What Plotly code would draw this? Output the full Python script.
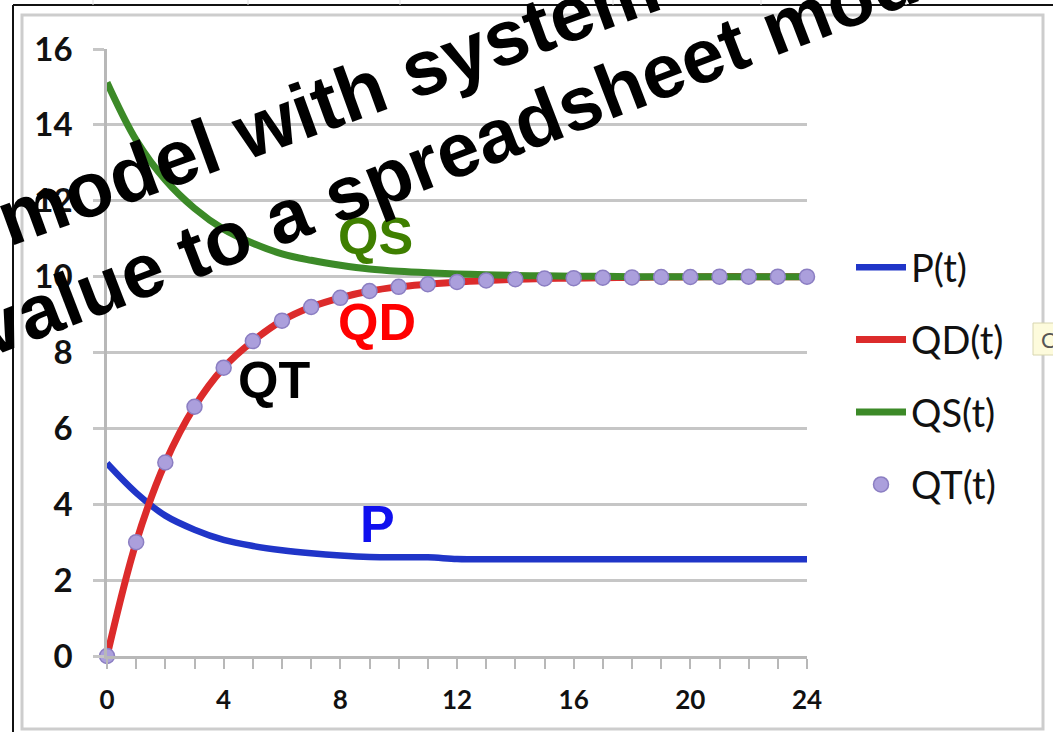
import plotly.graph_objects as go

# Figure geometry (pixels)
W, H = 1053, 732
ML, MR, MT, MB = 107, 246, 49, 76

# Time steps and model series
t = list(range(25))
x_ticks = [0, 4, 8, 12, 16, 20, 24]
y_ticks = [0, 2, 4, 6, 8, 10, 12, 14, 16]

p_t = [5.08, 4.30, 3.70, 3.33, 3.06, 2.90, 2.79, 2.71, 2.65, 2.61, 2.60, 2.60,
       2.56, 2.55, 2.55, 2.55, 2.55, 2.55, 2.55, 2.55, 2.55, 2.55, 2.55, 2.55, 2.55]
qd_t = [0.00, 3.00, 5.10, 6.57, 7.60, 8.30, 8.84, 9.20, 9.44, 9.62, 9.73, 9.80,
        9.86, 9.90, 9.93, 9.95, 9.96, 9.97, 9.98, 9.99, 9.99, 10.0, 10.0, 10.0, 10.0]
qs_t = [15.12, 13.60, 12.55, 11.80, 11.25, 10.88, 10.60, 10.43, 10.30, 10.20, 10.14, 10.10,
        10.07, 10.05, 10.03, 10.02, 10.01, 10.01, 10.0, 10.0, 10.0, 10.0, 10.0, 10.0, 10.0]
qt_t = [0.00, 3.00, 5.10, 6.57, 7.60, 8.30, 8.84, 9.20, 9.44, 9.62, 9.73, 9.80,
        9.86, 9.90, 9.93, 9.95, 9.96, 9.97, 9.98, 9.99, 9.99, 10.0, 10.0, 10.0, 10.0]

PW = W - ML - MR
PH = H - MT - MB


def px(x):
    return (x - ML) / PW


def py(y):
    return (H - MB - y) / PH


BLUE = "#2035c8"
RED = "#dc2b2b"
GREEN = "#3c8a28"
GRID = "#c6c6c6"

fig = go.Figure()
fig.add_trace(go.Scatter(x=t, y=p_t, name="P(t)", mode="lines", legendgroup="p",
                         line=dict(color=BLUE, width=6.5, shape="spline"), cliponaxis=False))
fig.add_trace(go.Scatter(x=t, y=qd_t, name="QD(t)", mode="lines", legendgroup="qd",
                         line=dict(color=RED, width=7, shape="spline"), cliponaxis=False))
fig.add_trace(go.Scatter(x=t, y=qs_t, name="QS(t)", mode="lines", legendgroup="qs",
                         line=dict(color=GREEN, width=7, shape="spline"), cliponaxis=False))
fig.add_trace(go.Scatter(x=t, y=qt_t, name="QT(t)", mode="markers", legendgroup="qt",
                         marker=dict(color="#ab9fdc", size=15,
                                     line=dict(color="#8b7ec2", width=1.5)),
                         cliponaxis=False))

shapes = [
    # chart area frame
    dict(type="rect", xref="paper", yref="paper", x0=px(22), x1=px(1043),
         y0=py(729), y1=py(15), line=dict(color="#cdcdcd", width=3), layer="below"),
    # window edges
    dict(type="line", xref="paper", yref="paper", x0=px(13), x1=px(1060),
         y0=py(5), y1=py(5), line=dict(color="#111111", width=2)),
    dict(type="line", xref="paper", yref="paper", x0=px(13), x1=px(13),
         y0=py(5), y1=py(740), line=dict(color="#111111", width=2)),
    # tooltip box at the right edge
    dict(type="rect", xref="paper", yref="paper", x0=px(1033), x1=px(1062),
         y0=py(355), y1=py(323), fillcolor="#fdfbdc", line=dict(color="#d8d6b0", width=1)),
]
for gx in [93, 248, 400, 613, 761, 906]:
    shapes.append(dict(type="line", xref="paper", yref="paper", x0=px(gx), x1=px(gx),
                       y0=py(0), y1=py(5), line=dict(color="#dddddd", width=1)))

annotations = [
    dict(text="QS", x=px(375), y=py(236), font=dict(color="#3f7f00")),
    dict(text="QD", x=px(377), y=py(322), font=dict(color="#ff0000")),
    dict(text="QT", x=px(274), y=py(380), font=dict(color="#000000")),
    dict(text="P", x=px(377), y=py(524), font=dict(color="#1010ee")),
]
for a in annotations:
    a.update(xref="paper", yref="paper", showarrow=False, xanchor="center", yanchor="middle")
    a["font"].update(family="Liberation Sans", size=52, weight="bold")

annotations.append(dict(text="C", x=px(1039), y=py(339), xref="paper", yref="paper",
                        showarrow=False, xanchor="left", yanchor="middle",
                        font=dict(family="Lato", size=22, color="#555555")))

# slanted slide caption over the chart
for txt, cx, cy, ang, fs in [("model with system", 328, 102, -20, 78),
                             ("value to a spreadsheet model", 476, 142, -21, 76)]:
    annotations.append(dict(text=txt, x=px(cx), y=py(cy), xref="paper", yref="paper",
                            showarrow=False, xanchor="center", yanchor="middle",
                            textangle=ang,
                            font=dict(family="Liberation Sans", size=fs, weight="bold",
                                      color="#000000")))

fig.update_layout(
    width=W, height=H,
    margin=dict(l=ML, r=MR, t=MT, b=MB, pad=0),
    paper_bgcolor="white", plot_bgcolor="white",
    showlegend=True,
    legend=dict(x=px(851), y=py(236), xanchor="left", yanchor="top",
                font=dict(family="Lato", size=38, color="#111111"),
                tracegroupgap=20, bgcolor="rgba(0,0,0,0)", itemwidth=50),
    shapes=shapes,
    annotations=annotations,
    xaxis=dict(range=[0, 24], tickvals=x_ticks, showgrid=False, zeroline=False,
               showline=True, linecolor="#b8b8b8", linewidth=2.5,
               ticks="outside", ticklen=10, tickcolor="#b8b8b8", tickwidth=2,
               minor=dict(dtick=1, ticks="outside", ticklen=10, tickcolor="#b8b8b8",
                          tickwidth=2),
               tickfont=dict(family="Lato", size=26, weight="bold", color="#111111"),
               ticklabelstandoff=9, automargin=False),
    yaxis=dict(range=[0, 16], tickvals=y_ticks, showgrid=True, gridcolor=GRID,
               gridwidth=2.5, zeroline=False, showline=True, linecolor="#b8b8b8",
               linewidth=2.5, ticks="outside", ticklen=11, tickcolor=GRID, tickwidth=2.5,
               tickfont=dict(family="Lato", size=33, weight="bold", color="#111111"),
               ticklabelstandoff=14, automargin=False),
)

fig.write_html("out.html")
